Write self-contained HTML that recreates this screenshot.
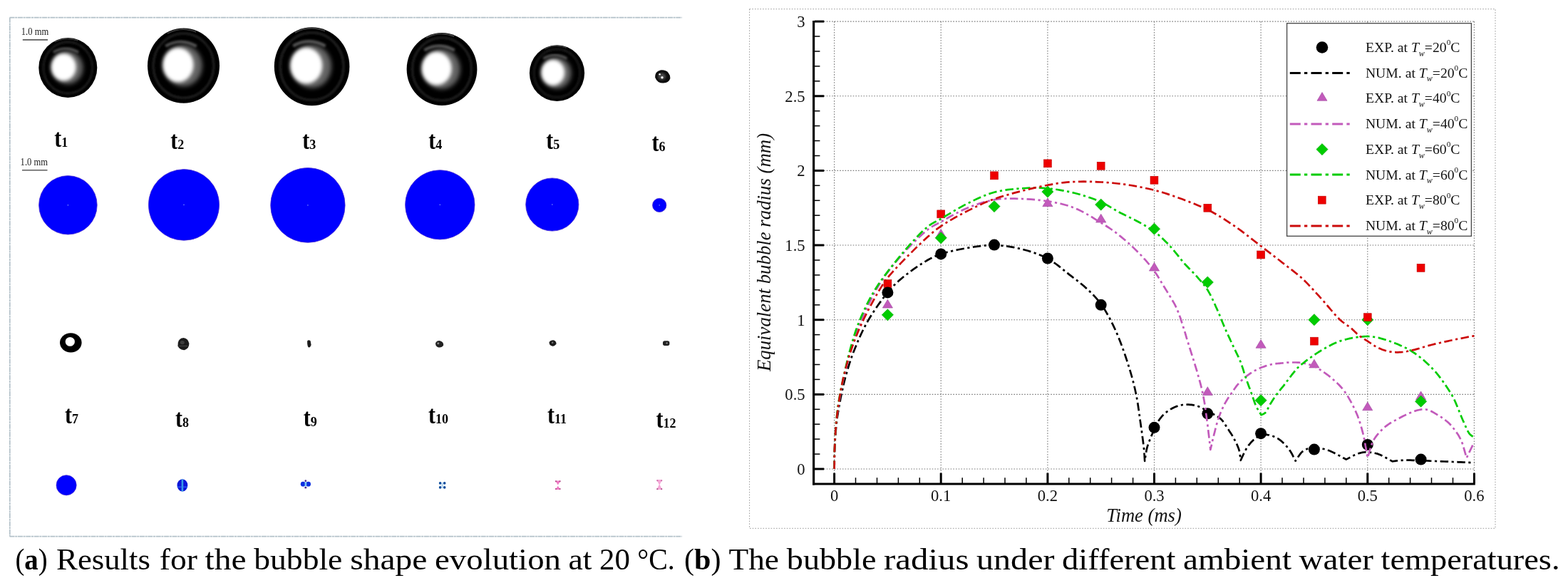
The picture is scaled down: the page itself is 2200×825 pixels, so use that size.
<!DOCTYPE html><html><head><meta charset="utf-8"><title>Bubble evolution figure</title><style>
html,body{margin:0;padding:0;background:#fff;}body{width:2200px;height:825px;overflow:hidden;position:relative;}
svg{position:absolute;left:0;top:0;display:block;}
text{font-family:"Liberation Serif", "Times New Roman", serif;}
</style></head><body>
<svg width="2200" height="825" viewBox="0 0 2200 825">
<defs>
<filter id="b1" x="-50%" y="-50%" width="200%" height="200%"><feGaussianBlur stdDeviation="1.6"/></filter>
<filter id="b2" x="-50%" y="-50%" width="200%" height="200%"><feGaussianBlur stdDeviation="0.7"/></filter>
<filter id="bh" x="-50%" y="-50%" width="200%" height="200%"><feGaussianBlur stdDeviation="3.2"/></filter>
<filter id="bc" x="-50%" y="-50%" width="200%" height="200%"><feGaussianBlur stdDeviation="2.4"/></filter>
<filter id="b3" x="-50%" y="-50%" width="200%" height="200%"><feGaussianBlur stdDeviation="0.45"/></filter>
<radialGradient id="core" cx="0.5" cy="0.5" r="0.5">
<stop offset="0" stop-color="#fff" stop-opacity="1"/>
<stop offset="0.62" stop-color="#fff" stop-opacity="1"/>
<stop offset="0.82" stop-color="#fff" stop-opacity="0.55"/>
<stop offset="1" stop-color="#fff" stop-opacity="0"/>
</radialGradient>
<radialGradient id="coreR" cx="0.35" cy="0.5" r="0.65" fx="0.35" fy="0.5">
<stop offset="0" stop-color="#fff" stop-opacity="1"/>
<stop offset="0.55" stop-color="#fff" stop-opacity="1"/>
<stop offset="0.8" stop-color="#bbb" stop-opacity="0.6"/>
<stop offset="1" stop-color="#666" stop-opacity="0"/>
</radialGradient>
</defs>
<g stroke="#b3c1c9" stroke-width="1.7" stroke-dasharray="7 0.7 3 0.7" fill="none">
<line x1="13.5" y1="24.7" x2="956.7" y2="24.7"/>
<line x1="13.8" y1="24.7" x2="13.8" y2="752.6"/>
<line x1="13.5" y1="752.6" x2="956.7" y2="752.6"/>
</g>
<text x="29.8" y="48.9" font-size="14.4" fill="#1a1a1a" textLength="38.4" lengthAdjust="spacingAndGlyphs">1.0 mm</text>
<line x1="31.8" y1="55.9" x2="67.0" y2="55.9" stroke="#5c5c5c" stroke-width="1.6"/>
<text x="28.6" y="232.2" font-size="14.4" fill="#1a1a1a" textLength="38.4" lengthAdjust="spacingAndGlyphs">1.0 mm</text>
<line x1="31.0" y1="238.8" x2="66.5" y2="238.8" stroke="#5c5c5c" stroke-width="1.6"/>
<g transform="translate(95.3 95.0)">
<ellipse rx="41.0" ry="42.0" fill="#030303" filter="url(#b2)"/>
<ellipse cx="0.0" cy="0.0" rx="34.4" ry="36.1" fill="none" stroke="#262626" stroke-width="2.1" filter="url(#b1)"/>
<path d="M-18.4 -36.1 A39.6 40.5 0 0 1 14.3 -37.8" fill="none" stroke="#777" stroke-width="1.4" opacity="0.5" filter="url(#b2)"/>
<path d="M-20.5 -21.8 Q-3.3 -31.9 14.8 -21.8" fill="none" stroke="#6e6e6e" stroke-width="3.4" opacity="0.75" filter="url(#b1)"/>
<ellipse cx="0.0" cy="0.0" rx="21.3" ry="23.1" fill="#9a9a9a" opacity="0.65" filter="url(#bh)"/>
<ellipse cx="-6.1" cy="-0.8" rx="17.6" ry="19.3" fill="#fff" filter="url(#bc)"/>
</g>
<g transform="translate(257.5 92.2)">
<ellipse rx="50.5" ry="52.6" fill="#030303" filter="url(#b2)"/>
<ellipse cx="0.0" cy="0.0" rx="42.4" ry="45.2" fill="none" stroke="#262626" stroke-width="2.5" filter="url(#b1)"/>
<path d="M-22.7 -45.2 A48.7 50.8 0 0 1 17.7 -47.3" fill="none" stroke="#777" stroke-width="1.8" opacity="0.5" filter="url(#b2)"/>
<path d="M-25.2 -27.4 Q-4.0 -40.0 18.2 -27.4" fill="none" stroke="#6e6e6e" stroke-width="4.2" opacity="0.75" filter="url(#b1)"/>
<ellipse cx="0.0" cy="0.0" rx="26.3" ry="28.9" fill="#9a9a9a" opacity="0.65" filter="url(#bh)"/>
<ellipse cx="-7.6" cy="-1.1" rx="21.7" ry="24.2" fill="#fff" filter="url(#bc)"/>
</g>
<g transform="translate(437.6 93.2)">
<ellipse rx="52.8" ry="55.0" fill="#030303" filter="url(#b2)"/>
<ellipse cx="0.0" cy="0.0" rx="44.4" ry="47.3" fill="none" stroke="#262626" stroke-width="2.6" filter="url(#b1)"/>
<path d="M-23.8 -47.3 A51.0 53.1 0 0 1 18.5 -49.5" fill="none" stroke="#777" stroke-width="1.8" opacity="0.5" filter="url(#b2)"/>
<path d="M-26.4 -28.6 Q-4.2 -41.8 19.0 -28.6" fill="none" stroke="#6e6e6e" stroke-width="4.4" opacity="0.75" filter="url(#b1)"/>
<ellipse cx="0.0" cy="0.0" rx="27.5" ry="30.3" fill="#9a9a9a" opacity="0.65" filter="url(#bh)"/>
<ellipse cx="-7.9" cy="-1.1" rx="22.7" ry="25.3" fill="#fff" filter="url(#bc)"/>
</g>
<g transform="translate(620.0 97.0)">
<ellipse rx="49.4" ry="51.0" fill="#030303" filter="url(#b2)"/>
<ellipse cx="0.0" cy="0.0" rx="41.5" ry="43.9" fill="none" stroke="#262626" stroke-width="2.5" filter="url(#b1)"/>
<path d="M-22.2 -43.9 A47.7 49.2 0 0 1 17.3 -45.9" fill="none" stroke="#777" stroke-width="1.7" opacity="0.5" filter="url(#b2)"/>
<path d="M-24.7 -26.5 Q-4.0 -38.8 17.8 -26.5" fill="none" stroke="#6e6e6e" stroke-width="4.1" opacity="0.75" filter="url(#b1)"/>
<ellipse cx="0.0" cy="0.0" rx="25.7" ry="28.1" fill="#9a9a9a" opacity="0.65" filter="url(#bh)"/>
<ellipse cx="-7.4" cy="-1.0" rx="21.2" ry="23.5" fill="#fff" filter="url(#bc)"/>
</g>
<g transform="translate(781.5 102.6)">
<ellipse rx="38.6" ry="39.4" fill="#030303" filter="url(#b2)"/>
<ellipse cx="0.0" cy="0.0" rx="32.4" ry="33.9" fill="none" stroke="#262626" stroke-width="1.9" filter="url(#b1)"/>
<path d="M-17.4 -33.9 A37.2 38.0 0 0 1 13.5 -35.5" fill="none" stroke="#777" stroke-width="1.4" opacity="0.5" filter="url(#b2)"/>
<path d="M-19.3 -20.5 Q-3.1 -29.9 13.9 -20.5" fill="none" stroke="#6e6e6e" stroke-width="3.2" opacity="0.75" filter="url(#b1)"/>
<ellipse cx="0.0" cy="0.0" rx="20.1" ry="21.7" fill="#9a9a9a" opacity="0.65" filter="url(#bh)"/>
<ellipse cx="-5.8" cy="-0.8" rx="16.6" ry="18.1" fill="#fff" filter="url(#bc)"/>
</g>
<g transform="translate(929.6 107.4)"><path d="M-10.5 1 Q-10.5 -7.5 -3 -9 Q5 -9.5 8 -5.5 Q11 -2 10.8 2.5 Q9 8.5 1 9.2 Q-7.5 9.2 -10.5 1 Z" fill="#0a0a0a" filter="url(#b2)"/><ellipse cx="-1" cy="0" rx="5.5" ry="4.8" fill="#4a4a4a" filter="url(#b1)"/><circle cx="-4" cy="-3.2" r="1.3" fill="#f4f4f4" filter="url(#b3)"/><circle cx="-0.6" cy="1.4" r="1.7" fill="#f4f4f4" filter="url(#b3)"/></g>
<text transform="translate(76.2 206.3) scale(1 1.17)" font-size="30.0" font-weight="bold" fill="#000">t</text><text x="86.2" y="206.3" font-size="18.0" font-weight="bold" fill="#000">1</text>
<text transform="translate(239.3 208.8) scale(1 1.17)" font-size="30.0" font-weight="bold" fill="#000">t</text><text x="249.3" y="208.8" font-size="18.0" font-weight="bold" fill="#000">2</text>
<text transform="translate(424.3 208.8) scale(1 1.17)" font-size="30.0" font-weight="bold" fill="#000">t</text><text x="434.3" y="208.8" font-size="18.0" font-weight="bold" fill="#000">3</text>
<text transform="translate(601.3 208.6) scale(1 1.17)" font-size="30.0" font-weight="bold" fill="#000">t</text><text x="611.3" y="208.6" font-size="18.0" font-weight="bold" fill="#000">4</text>
<text transform="translate(766.3 208.8) scale(1 1.17)" font-size="30.0" font-weight="bold" fill="#000">t</text><text x="776.3" y="208.8" font-size="18.0" font-weight="bold" fill="#000">5</text>
<text transform="translate(914.5 211.5) scale(1 1.17)" font-size="30.0" font-weight="bold" fill="#000">t</text><text x="924.5" y="211.5" font-size="18.0" font-weight="bold" fill="#000">6</text>
<text transform="translate(91.0 594.1) scale(1 1.17)" font-size="30.0" font-weight="bold" fill="#000">t</text><text x="101.0" y="594.1" font-size="18.0" font-weight="bold" fill="#000">7</text>
<text transform="translate(246.0 599.3) scale(1 1.17)" font-size="30.0" font-weight="bold" fill="#000">t</text><text x="256.0" y="599.3" font-size="18.0" font-weight="bold" fill="#000">8</text>
<text transform="translate(425.7 597.8) scale(1 1.17)" font-size="30.0" font-weight="bold" fill="#000">t</text><text x="435.7" y="597.8" font-size="18.0" font-weight="bold" fill="#000">9</text>
<text transform="translate(601.0 594.1) scale(1 1.17)" font-size="30.0" font-weight="bold" fill="#000">t</text><text x="611.0" y="594.1" font-size="18.0" font-weight="bold" fill="#000">10</text>
<text transform="translate(768.0 594.3) scale(1 1.17)" font-size="30.0" font-weight="bold" fill="#000">t</text><text x="778.0" y="594.3" font-size="18.0" font-weight="bold" fill="#000">11</text>
<text transform="translate(920.5 599.6) scale(1 1.17)" font-size="30.0" font-weight="bold" fill="#000">t</text><text x="930.5" y="599.6" font-size="18.0" font-weight="bold" fill="#000">12</text>
<ellipse cx="95.4" cy="287.8" rx="40.8" ry="41.2" fill="#0000fe" stroke="#4a2fd0" stroke-width="0.8"/>
<rect x="94.8" y="287.2" width="1.2" height="1.2" fill="#9ab0ff"/>
<ellipse cx="258.0" cy="287.4" rx="49.6" ry="49.8" fill="#0000fe" stroke="#4a2fd0" stroke-width="0.8"/>
<rect x="257.4" y="286.8" width="1.2" height="1.2" fill="#9ab0ff"/>
<ellipse cx="431.9" cy="287.9" rx="52.2" ry="52.4" fill="#0000fe" stroke="#4a2fd0" stroke-width="0.8"/>
<rect x="431.3" y="287.3" width="1.2" height="1.2" fill="#9ab0ff"/>
<ellipse cx="617.3" cy="287.3" rx="48.7" ry="48.6" fill="#0000fe" stroke="#4a2fd0" stroke-width="0.8"/>
<rect x="616.7" y="286.7" width="1.2" height="1.2" fill="#9ab0ff"/>
<ellipse cx="774.8" cy="287.0" rx="37.1" ry="37.1" fill="#0000fe" stroke="#4a2fd0" stroke-width="0.8"/>
<rect x="774.2" y="286.4" width="1.2" height="1.2" fill="#9ab0ff"/>
<ellipse cx="925.2" cy="287.9" rx="9.7" ry="9.6" fill="#0000fe" stroke="#4a2fd0" stroke-width="0.8"/>
<rect x="924.6" y="287.3" width="1.2" height="1.2" fill="#9ab0ff"/>
<g transform="translate(99.3 480.8)"><ellipse rx="15.3" ry="13.6" fill="#060606" filter="url(#b3)"/><ellipse cx="-1.0" cy="-1.4" rx="6.6" ry="6.4" fill="#fff" filter="url(#b2)"/><ellipse cx="-1.0" cy="-1.4" rx="4" ry="4" fill="#fff"/></g>
<g transform="translate(257.3 482.6)"><path d="M-7.5 -2 Q-6 -8 0 -8.5 Q6.5 -8 8 -1 Q8.5 6 2 8.5 Q-5 9 -7.8 3 Z" fill="#1e1e1e" filter="url(#b3)"/><ellipse cx="-1.5" cy="-2" rx="3" ry="2.6" fill="#555" opacity="0.6" filter="url(#b2)"/><line x1="-6" y1="2.8" x2="6" y2="2.8" stroke="#777" stroke-width="0.8" opacity="0.6"/></g>
<path d="M431.2 478.2 Q433.5 476 435.6 478.5 L436.6 484 Q435 488.5 432.4 487 Q430.8 484 431.2 478.2 Z" fill="#1a1a1a" filter="url(#b2)"/>
<g filter="url(#b2)"><path d="M611 481.5 Q613 477.5 617.5 478.2 Q622.5 479.5 622.2 484.5 Q620 488 615.5 487.5 Q611 486.5 611 481.5 Z" fill="#222"/><circle cx="614.8" cy="481.8" r="1.5" fill="#888"/></g>
<g filter="url(#b2)"><path d="M770.5 480 Q772.5 476.8 776.5 477.2 Q780.8 478.5 780.5 482.5 Q778.5 486 774.5 485.6 Q770.6 484.6 770.5 480 Z" fill="#1a1a1a"/><circle cx="775.2" cy="480.8" r="1.2" fill="#777"/></g>
<g filter="url(#b2)"><rect x="930" y="478.3" width="9.4" height="6.6" rx="2.6" fill="#222"/><circle cx="935.6" cy="481.4" r="1.2" fill="#888"/></g>
<ellipse cx="93.1" cy="680.8" rx="14.1" ry="14.1" fill="#0000fe" stroke="#4a2fd0" stroke-width="0.7"/>
<g filter="url(#b3)"><ellipse cx="255.9" cy="680.9" rx="7.4" ry="8.7" fill="#0a14d8"/><rect x="254.6" y="672.4" width="2.6" height="17" fill="#3fb4e8" opacity="0.85"/><line x1="248.6" y1="683.2" x2="263.2" y2="683.2" stroke="#3c7cff" stroke-width="1"/></g>
<g filter="url(#b3)"><ellipse cx="425.2" cy="679.2" rx="3.4" ry="3.4" fill="#0b2fe0"/><ellipse cx="432.6" cy="679.2" rx="3.4" ry="3.4" fill="#0b2fe0"/><rect x="427.6" y="676.3" width="2.6" height="6" fill="#7cc8f0"/><circle cx="428.8" cy="674.7" r="1.4" fill="#4a2a90"/><circle cx="428.8" cy="684.2" r="1.4" fill="#4a2a90"/></g>
<g filter="url(#b3)" fill="#0b4c9c"><circle cx="617.6" cy="677.9" r="1.8"/><circle cx="623.7" cy="677.9" r="1.8"/><circle cx="617.6" cy="683.9" r="1.8"/><circle cx="623.7" cy="683.9" r="1.8"/><rect x="619.3" y="677" width="2.6" height="8" fill="#9cc8e8" opacity="0.7"/></g>
<g filter="url(#b3)"><path d="M779.3 674.4 L786.4 674.4 L782.8 680.6 Z" fill="#f07ac4"/><path d="M779.3 687 L786.4 687 L782.8 681.8 Z" fill="#f07ac4"/><circle cx="780" cy="675.3" r="1.1" fill="#b04888"/><circle cx="785.6" cy="675.3" r="1.1" fill="#b04888"/><circle cx="780" cy="686" r="1.1" fill="#b04888"/><circle cx="785.6" cy="686" r="1.1" fill="#b04888"/></g>
<g filter="url(#b3)"><path d="M921.2 673 L929.2 673 L925.6 680 L929.2 687 L921.2 687 L924.8 680 Z" fill="#f6a8d8"/><circle cx="922.3" cy="674.3" r="1.1" fill="#c870a8"/><circle cx="928.2" cy="674.3" r="1.1" fill="#c870a8"/><circle cx="922.3" cy="686.2" r="1.1" fill="#b05890"/><circle cx="928.2" cy="686.2" r="1.1" fill="#b05890"/></g>
<rect x="1051.6" y="12.7" width="1046.4" height="728.6" fill="none" stroke="#9a9a9a" stroke-width="1" stroke-dasharray="1.6 2.1"/>
<g stroke="#7a7a7a" stroke-width="1.1" stroke-dasharray="1.6 2.1" fill="none">
<line x1="1170.6" y1="30.1" x2="1170.6" y2="664"/>
<line x1="1320.2" y1="30.1" x2="1320.2" y2="664"/>
<line x1="1469.9" y1="30.1" x2="1469.9" y2="664"/>
<line x1="1619.5" y1="30.1" x2="1619.5" y2="664"/>
<line x1="1769.1" y1="30.1" x2="1769.1" y2="664"/>
<line x1="1918.8" y1="30.1" x2="1918.8" y2="664"/>
<line x1="2068.4" y1="30.1" x2="2068.4" y2="664"/>
<line x1="1156" y1="658.0" x2="2068.4" y2="658.0"/>
<line x1="1156" y1="553.4" x2="2068.4" y2="553.4"/>
<line x1="1156" y1="448.7" x2="2068.4" y2="448.7"/>
<line x1="1156" y1="344.0" x2="2068.4" y2="344.0"/>
<line x1="1156" y1="239.4" x2="2068.4" y2="239.4"/>
<line x1="1156" y1="134.8" x2="2068.4" y2="134.8"/>
<line x1="1156" y1="30.1" x2="2068.4" y2="30.1"/>
</g>
<g stroke="#000" fill="none">
<line x1="1141.6" y1="29" x2="1141.6" y2="680.5" stroke-width="3.2"/>
<line x1="1140" y1="679.0" x2="2069.8" y2="679.0" stroke-width="3.2"/>
<line x1="1143" y1="658.0" x2="1156.2" y2="658.0" stroke-width="3"/>
<line x1="1143" y1="637.1" x2="1150.4" y2="637.1" stroke-width="1.5"/>
<line x1="1143" y1="616.1" x2="1150.4" y2="616.1" stroke-width="1.5"/>
<line x1="1143" y1="595.2" x2="1150.4" y2="595.2" stroke-width="1.5"/>
<line x1="1143" y1="574.3" x2="1150.4" y2="574.3" stroke-width="1.5"/>
<line x1="1143" y1="553.4" x2="1156.2" y2="553.4" stroke-width="3"/>
<line x1="1143" y1="532.4" x2="1150.4" y2="532.4" stroke-width="1.5"/>
<line x1="1143" y1="511.5" x2="1150.4" y2="511.5" stroke-width="1.5"/>
<line x1="1143" y1="490.6" x2="1150.4" y2="490.6" stroke-width="1.5"/>
<line x1="1143" y1="469.6" x2="1150.4" y2="469.6" stroke-width="1.5"/>
<line x1="1143" y1="448.7" x2="1156.2" y2="448.7" stroke-width="3"/>
<line x1="1143" y1="427.8" x2="1150.4" y2="427.8" stroke-width="1.5"/>
<line x1="1143" y1="406.8" x2="1150.4" y2="406.8" stroke-width="1.5"/>
<line x1="1143" y1="385.9" x2="1150.4" y2="385.9" stroke-width="1.5"/>
<line x1="1143" y1="365.0" x2="1150.4" y2="365.0" stroke-width="1.5"/>
<line x1="1143" y1="344.0" x2="1156.2" y2="344.0" stroke-width="3"/>
<line x1="1143" y1="323.1" x2="1150.4" y2="323.1" stroke-width="1.5"/>
<line x1="1143" y1="302.2" x2="1150.4" y2="302.2" stroke-width="1.5"/>
<line x1="1143" y1="281.3" x2="1150.4" y2="281.3" stroke-width="1.5"/>
<line x1="1143" y1="260.3" x2="1150.4" y2="260.3" stroke-width="1.5"/>
<line x1="1143" y1="239.4" x2="1156.2" y2="239.4" stroke-width="3"/>
<line x1="1143" y1="218.5" x2="1150.4" y2="218.5" stroke-width="1.5"/>
<line x1="1143" y1="197.5" x2="1150.4" y2="197.5" stroke-width="1.5"/>
<line x1="1143" y1="176.6" x2="1150.4" y2="176.6" stroke-width="1.5"/>
<line x1="1143" y1="155.7" x2="1150.4" y2="155.7" stroke-width="1.5"/>
<line x1="1143" y1="134.8" x2="1156.2" y2="134.8" stroke-width="3"/>
<line x1="1143" y1="113.8" x2="1150.4" y2="113.8" stroke-width="1.5"/>
<line x1="1143" y1="92.9" x2="1150.4" y2="92.9" stroke-width="1.5"/>
<line x1="1143" y1="72.0" x2="1150.4" y2="72.0" stroke-width="1.5"/>
<line x1="1143" y1="51.0" x2="1150.4" y2="51.0" stroke-width="1.5"/>
<line x1="1143" y1="30.1" x2="1156.2" y2="30.1" stroke-width="3"/>
<line x1="1170.6" y1="678" x2="1170.6" y2="663.6" stroke-width="3"/>
<line x1="1200.5" y1="678" x2="1200.5" y2="670.2" stroke-width="1.5"/>
<line x1="1230.5" y1="678" x2="1230.5" y2="670.2" stroke-width="1.5"/>
<line x1="1260.4" y1="678" x2="1260.4" y2="670.2" stroke-width="1.5"/>
<line x1="1290.3" y1="678" x2="1290.3" y2="670.2" stroke-width="1.5"/>
<line x1="1320.2" y1="678" x2="1320.2" y2="663.6" stroke-width="3"/>
<line x1="1350.2" y1="678" x2="1350.2" y2="670.2" stroke-width="1.5"/>
<line x1="1380.1" y1="678" x2="1380.1" y2="670.2" stroke-width="1.5"/>
<line x1="1410.0" y1="678" x2="1410.0" y2="670.2" stroke-width="1.5"/>
<line x1="1439.9" y1="678" x2="1439.9" y2="670.2" stroke-width="1.5"/>
<line x1="1469.9" y1="678" x2="1469.9" y2="663.6" stroke-width="3"/>
<line x1="1499.8" y1="678" x2="1499.8" y2="670.2" stroke-width="1.5"/>
<line x1="1529.7" y1="678" x2="1529.7" y2="670.2" stroke-width="1.5"/>
<line x1="1559.6" y1="678" x2="1559.6" y2="670.2" stroke-width="1.5"/>
<line x1="1589.6" y1="678" x2="1589.6" y2="670.2" stroke-width="1.5"/>
<line x1="1619.5" y1="678" x2="1619.5" y2="663.6" stroke-width="3"/>
<line x1="1649.4" y1="678" x2="1649.4" y2="670.2" stroke-width="1.5"/>
<line x1="1679.3" y1="678" x2="1679.3" y2="670.2" stroke-width="1.5"/>
<line x1="1709.3" y1="678" x2="1709.3" y2="670.2" stroke-width="1.5"/>
<line x1="1739.2" y1="678" x2="1739.2" y2="670.2" stroke-width="1.5"/>
<line x1="1769.1" y1="678" x2="1769.1" y2="663.6" stroke-width="3"/>
<line x1="1799.0" y1="678" x2="1799.0" y2="670.2" stroke-width="1.5"/>
<line x1="1829.0" y1="678" x2="1829.0" y2="670.2" stroke-width="1.5"/>
<line x1="1858.9" y1="678" x2="1858.9" y2="670.2" stroke-width="1.5"/>
<line x1="1888.8" y1="678" x2="1888.8" y2="670.2" stroke-width="1.5"/>
<line x1="1918.8" y1="678" x2="1918.8" y2="663.6" stroke-width="3"/>
<line x1="1948.7" y1="678" x2="1948.7" y2="670.2" stroke-width="1.5"/>
<line x1="1978.6" y1="678" x2="1978.6" y2="670.2" stroke-width="1.5"/>
<line x1="2008.5" y1="678" x2="2008.5" y2="670.2" stroke-width="1.5"/>
<line x1="2038.5" y1="678" x2="2038.5" y2="670.2" stroke-width="1.5"/>
<line x1="2068.4" y1="678" x2="2068.4" y2="663.6" stroke-width="3"/>
</g>
<g font-size="22.6" fill="#111">
<text x="1129.6" y="665.9" text-anchor="end">0</text>
<text x="1129.6" y="561.2" text-anchor="end">0.5</text>
<text x="1129.6" y="456.6" text-anchor="end">1</text>
<text x="1129.6" y="351.9" text-anchor="end">1.5</text>
<text x="1129.6" y="247.3" text-anchor="end">2</text>
<text x="1129.6" y="142.7" text-anchor="end">2.5</text>
<text x="1129.6" y="38.0" text-anchor="end">3</text>
<text x="1170.6" y="702.8" text-anchor="middle">0</text>
<text x="1320.2" y="702.8" text-anchor="middle">0.1</text>
<text x="1469.9" y="702.8" text-anchor="middle">0.2</text>
<text x="1619.5" y="702.8" text-anchor="middle">0.3</text>
<text x="1769.1" y="702.8" text-anchor="middle">0.4</text>
<text x="1918.8" y="702.8" text-anchor="middle">0.5</text>
<text x="2068.4" y="702.8" text-anchor="middle">0.6</text>
</g>
<text x="1605" y="732.2" font-size="26.6" font-style="italic" fill="#111" text-anchor="middle">Time (ms)</text>
<text transform="translate(1080.6 354) rotate(-90)" font-size="26.8" font-style="italic" fill="#111" text-anchor="middle">Equivalent bubble radius (mm)</text>
<path d="M1245.4 420.2 L1252.5 432.0 L1238.3 432.0 Z" fill="#c25abb" stroke="#a04aa0" stroke-width="0.6"/>
<path d="M1320.2 321.4 L1327.3 333.2 L1313.1 333.2 Z" fill="#c25abb" stroke="#a04aa0" stroke-width="0.6"/>
<path d="M1469.9 277.9 L1477.0 289.7 L1462.8 289.7 Z" fill="#c25abb" stroke="#a04aa0" stroke-width="0.6"/>
<path d="M1544.7 300.3 L1551.8 312.1 L1537.6 312.1 Z" fill="#c25abb" stroke="#a04aa0" stroke-width="0.6"/>
<path d="M1619.5 368.3 L1626.6 380.1 L1612.4 380.1 Z" fill="#c25abb" stroke="#a04aa0" stroke-width="0.6"/>
<path d="M1694.3 542.7 L1701.4 554.5 L1687.2 554.5 Z" fill="#c25abb" stroke="#a04aa0" stroke-width="0.6"/>
<path d="M1769.1 476.5 L1776.2 488.3 L1762.0 488.3 Z" fill="#c25abb" stroke="#a04aa0" stroke-width="0.6"/>
<path d="M1843.9 504.2 L1851.0 516.0 L1836.8 516.0 Z" fill="#c25abb" stroke="#a04aa0" stroke-width="0.6"/>
<path d="M1918.8 564.0 L1925.8 575.8 L1911.7 575.8 Z" fill="#c25abb" stroke="#a04aa0" stroke-width="0.6"/>
<path d="M1993.6 549.0 L2000.7 560.8 L1986.5 560.8 Z" fill="#c25abb" stroke="#a04aa0" stroke-width="0.6"/>
<path d="M1245.4 433.7 L1253.5 441.8 L1245.4 449.9 L1237.3 441.8 Z" fill="#00cc00" stroke="#00a800" stroke-width="0.6"/>
<path d="M1320.2 325.7 L1328.3 333.8 L1320.2 341.9 L1312.1 333.8 Z" fill="#00cc00" stroke="#00a800" stroke-width="0.6"/>
<path d="M1395.0 281.5 L1403.1 289.6 L1395.0 297.7 L1386.9 289.6 Z" fill="#00cc00" stroke="#00a800" stroke-width="0.6"/>
<path d="M1469.9 261.0 L1478.0 269.1 L1469.9 277.2 L1461.8 269.1 Z" fill="#00cc00" stroke="#00a800" stroke-width="0.6"/>
<path d="M1544.7 279.0 L1552.8 287.1 L1544.7 295.2 L1536.6 287.1 Z" fill="#00cc00" stroke="#00a800" stroke-width="0.6"/>
<path d="M1619.5 313.1 L1627.6 321.2 L1619.5 329.3 L1611.4 321.2 Z" fill="#00cc00" stroke="#00a800" stroke-width="0.6"/>
<path d="M1694.3 387.9 L1702.4 396.0 L1694.3 404.1 L1686.2 396.0 Z" fill="#00cc00" stroke="#00a800" stroke-width="0.6"/>
<path d="M1769.1 553.6 L1777.2 561.7 L1769.1 569.8 L1761.0 561.7 Z" fill="#00cc00" stroke="#00a800" stroke-width="0.6"/>
<path d="M1843.9 440.6 L1852.0 448.7 L1843.9 456.8 L1835.8 448.7 Z" fill="#00cc00" stroke="#00a800" stroke-width="0.6"/>
<path d="M1918.8 440.6 L1926.8 448.7 L1918.8 456.8 L1910.7 448.7 Z" fill="#00cc00" stroke="#00a800" stroke-width="0.6"/>
<path d="M1993.6 555.1 L2001.7 563.2 L1993.6 571.3 L1985.5 563.2 Z" fill="#00cc00" stroke="#00a800" stroke-width="0.6"/>
<rect x="1240.0" y="392.6" width="10.9" height="10.9" fill="#ee0000" stroke="#c00000" stroke-width="0.6"/>
<rect x="1314.8" y="294.9" width="10.9" height="10.9" fill="#ee0000" stroke="#c00000" stroke-width="0.6"/>
<rect x="1389.6" y="240.9" width="10.9" height="10.9" fill="#ee0000" stroke="#c00000" stroke-width="0.6"/>
<rect x="1464.4" y="223.9" width="10.9" height="10.9" fill="#ee0000" stroke="#c00000" stroke-width="0.6"/>
<rect x="1539.2" y="227.3" width="10.9" height="10.9" fill="#ee0000" stroke="#c00000" stroke-width="0.6"/>
<rect x="1614.0" y="247.3" width="10.9" height="10.9" fill="#ee0000" stroke="#c00000" stroke-width="0.6"/>
<rect x="1688.9" y="286.3" width="10.9" height="10.9" fill="#ee0000" stroke="#c00000" stroke-width="0.6"/>
<rect x="1763.7" y="352.0" width="10.9" height="10.9" fill="#ee0000" stroke="#c00000" stroke-width="0.6"/>
<rect x="1838.5" y="473.2" width="10.9" height="10.9" fill="#ee0000" stroke="#c00000" stroke-width="0.6"/>
<rect x="1913.3" y="439.7" width="10.9" height="10.9" fill="#ee0000" stroke="#c00000" stroke-width="0.6"/>
<rect x="1988.1" y="370.4" width="10.9" height="10.9" fill="#ee0000" stroke="#c00000" stroke-width="0.6"/>
<circle cx="1245.4" cy="410.4" r="8.0" fill="#000"/>
<circle cx="1320.2" cy="356.4" r="8.0" fill="#000"/>
<circle cx="1395.0" cy="343.6" r="8.0" fill="#000"/>
<circle cx="1469.9" cy="362.5" r="8.0" fill="#000"/>
<circle cx="1544.7" cy="427.8" r="8.0" fill="#000"/>
<circle cx="1619.5" cy="599.8" r="8.0" fill="#000"/>
<circle cx="1694.3" cy="580.3" r="8.0" fill="#000"/>
<circle cx="1769.1" cy="608.2" r="8.0" fill="#000"/>
<circle cx="1843.9" cy="630.6" r="8.0" fill="#000"/>
<circle cx="1918.8" cy="623.9" r="8.0" fill="#000"/>
<circle cx="1993.6" cy="644.6" r="8.0" fill="#000"/>
<path d="M1170.6 658.0L1170.6 655.1L1170.7 652.2L1170.7 649.2L1170.7 646.3L1170.7 643.4L1170.8 640.5L1170.8 637.7L1170.9 634.9L1171.0 632.5L1171.1 630.1L1171.2 627.7L1171.3 625.4L1171.4 623.1L1171.5 620.8L1171.6 618.4L1171.8 616.1L1172.0 613.6L1172.2 611.1L1172.4 608.6L1172.6 606.0L1172.8 603.5L1173.0 600.9L1173.3 598.4L1173.6 595.8L1173.9 593.2L1174.2 590.6L1174.5 588.1L1174.8 585.5L1175.2 582.9L1175.6 580.2L1176.1 577.3L1176.6 574.2L1177.4 569.4L1178.4 564.2L1179.5 558.6L1180.6 552.9L1181.9 547.0L1183.2 541.2L1184.6 535.4L1186.0 529.9L1187.5 524.7L1189.0 519.5L1190.5 514.3L1192.1 509.2L1193.9 504.1L1195.6 499.0L1197.5 493.9L1199.5 488.9L1201.6 483.8L1203.7 478.7L1206.0 473.6L1208.3 468.5L1210.7 463.5L1213.2 458.5L1215.9 453.6L1218.6 448.7L1221.6 443.7L1224.9 438.6L1228.2 433.5L1231.7 428.5L1235.2 423.6L1238.7 418.9L1242.1 414.5L1245.4 410.4L1247.8 407.5L1250.2 404.9L1252.4 402.4L1254.7 400.0L1257.0 397.7L1259.5 395.5L1262.1 393.1L1264.9 390.7L1268.7 387.5L1273.0 384.2L1277.5 380.8L1282.2 377.4L1286.9 374.2L1291.5 371.1L1295.9 368.3L1300.0 365.8L1302.7 364.3L1305.2 362.9L1307.6 361.7L1309.9 360.5L1312.2 359.4L1314.7 358.4L1317.3 357.4L1320.2 356.4L1324.7 355.0L1329.6 353.6L1334.9 352.4L1340.3 351.1L1345.8 350.0L1351.4 349.0L1356.7 348.0L1361.8 347.2L1366.1 346.5L1370.3 345.9L1374.4 345.3L1378.5 344.8L1382.6 344.4L1386.7 344.2L1390.8 344.0L1395.0 344.0L1399.6 344.2L1404.3 344.6L1409.0 345.0L1413.7 345.6L1418.4 346.4L1423.1 347.2L1427.8 348.2L1432.5 349.3L1437.2 350.5L1442.0 351.8L1446.8 353.3L1451.6 354.9L1456.3 356.6L1461.0 358.5L1465.5 360.5L1469.9 362.7L1474.0 365.0L1477.9 367.7L1481.8 370.5L1485.6 373.4L1489.3 376.4L1493.0 379.4L1496.6 382.3L1500.1 385.1L1503.1 387.4L1506.1 389.7L1509.1 391.9L1512.0 394.1L1514.8 396.4L1517.6 398.7L1520.4 401.0L1523.1 403.5L1526.0 406.1L1528.8 408.8L1531.5 411.5L1534.3 414.3L1537.0 417.1L1539.6 420.1L1542.2 423.2L1544.7 426.5L1547.4 430.5L1550.1 434.6L1552.6 438.9L1555.1 443.3L1557.6 447.9L1560.0 452.6L1562.3 457.4L1564.6 462.3L1567.2 468.1L1569.7 474.2L1572.2 480.5L1574.6 486.9L1576.9 493.4L1579.1 499.8L1581.2 506.1L1583.1 512.1L1584.7 517.2L1586.2 522.1L1587.6 527.0L1588.9 531.8L1590.2 536.6L1591.4 541.4L1592.5 546.3L1593.6 551.3L1594.7 556.6L1595.7 562.2L1596.6 567.7L1597.4 573.4L1598.2 579.0L1599.0 584.5L1599.7 589.9L1600.5 595.2L1601.1 599.8L1601.8 604.4L1602.4 609.0L1603.0 613.5L1603.6 617.8L1604.1 622.0L1604.6 626.0L1605.0 629.7L1605.2 632.2L1605.4 634.4L1605.5 636.6L1605.7 638.7L1605.8 640.7L1605.9 642.8L1606.0 644.8L1606.2 646.9L1606.6 644.5L1606.9 642.0L1607.3 639.6L1607.7 637.1L1608.1 634.7L1608.5 632.2L1609.0 629.8L1609.6 627.4L1610.3 625.1L1611.1 622.8L1611.9 620.5L1612.8 618.2L1613.7 615.9L1614.6 613.7L1615.6 611.4L1616.6 609.0L1617.8 606.4L1618.9 603.7L1620.1 601.0L1621.4 598.2L1622.7 595.6L1624.1 593.0L1625.5 590.5L1627.0 588.3L1628.3 586.6L1629.6 585.0L1630.9 583.4L1632.3 582.0L1633.8 580.6L1635.3 579.3L1636.9 578.0L1638.5 576.8L1640.3 575.6L1642.1 574.4L1644.1 573.3L1646.1 572.2L1648.1 571.3L1650.1 570.4L1652.2 569.7L1654.2 569.0L1656.1 568.6L1658.1 568.2L1660.0 568.0L1662.0 567.8L1663.9 567.7L1665.9 567.7L1667.8 567.7L1669.6 567.8L1671.3 567.9L1672.9 568.1L1674.5 568.4L1676.1 568.7L1677.7 569.1L1679.3 569.5L1680.8 570.0L1682.3 570.5L1683.9 571.2L1685.5 571.9L1687.0 572.7L1688.5 573.6L1690.0 574.5L1691.5 575.4L1692.9 576.2L1694.3 577.0L1695.4 577.5L1696.4 578.0L1697.3 578.5L1698.3 579.0L1699.3 579.4L1700.2 579.9L1701.2 580.4L1702.2 581.0L1703.5 581.7L1704.9 582.5L1706.3 583.3L1707.8 584.1L1709.2 585.0L1710.6 586.0L1711.9 587.0L1713.2 588.1L1714.4 589.4L1715.7 590.9L1716.8 592.4L1717.9 594.1L1719.0 595.8L1720.1 597.5L1721.2 599.2L1722.3 600.9L1723.5 602.6L1724.6 604.4L1725.8 606.2L1727.0 608.0L1728.2 609.9L1729.3 611.7L1730.4 613.6L1731.4 615.5L1732.4 617.5L1733.5 619.5L1734.5 621.6L1735.5 623.6L1736.4 625.7L1737.2 627.8L1738.0 629.8L1738.6 631.8L1739.1 633.6L1739.4 635.4L1739.7 637.1L1739.9 638.9L1740.1 640.6L1740.3 642.4L1740.5 644.1L1740.7 645.9L1741.8 643.6L1742.8 641.3L1743.9 639.0L1745.0 636.7L1746.1 634.5L1747.2 632.3L1748.3 630.2L1749.5 628.3L1750.6 626.7L1751.6 625.2L1752.7 623.8L1753.9 622.4L1755.0 621.0L1756.2 619.8L1757.4 618.5L1758.6 617.4L1759.9 616.4L1761.1 615.3L1762.4 614.4L1763.7 613.4L1765.1 612.6L1766.4 611.8L1767.8 611.2L1769.1 610.7L1770.3 610.4L1771.4 610.1L1772.6 609.9L1773.7 609.8L1774.9 609.8L1776.1 609.8L1777.3 609.9L1778.5 610.1L1780.1 610.3L1781.7 610.7L1783.4 611.2L1785.1 611.7L1786.8 612.3L1788.4 613.0L1790.0 613.7L1791.4 614.5L1792.6 615.1L1793.8 615.8L1794.9 616.6L1795.9 617.4L1797.0 618.2L1798.0 619.1L1799.0 620.0L1800.1 621.0L1801.4 622.2L1802.7 623.6L1804.1 625.0L1805.4 626.5L1806.7 628.1L1807.9 629.7L1809.1 631.3L1810.3 632.9L1811.3 634.5L1812.3 636.2L1813.2 637.9L1814.1 639.7L1815.0 641.4L1815.8 643.2L1816.7 645.0L1817.6 646.7L1819.0 644.8L1820.3 642.8L1821.6 640.8L1823.0 638.8L1824.3 636.9L1825.8 635.1L1827.3 633.6L1829.0 632.3L1830.6 631.3L1832.4 630.5L1834.2 629.8L1836.1 629.3L1838.0 628.9L1840.0 628.6L1842.0 628.4L1843.9 628.3L1846.1 628.3L1848.4 628.4L1850.6 628.6L1852.9 629.0L1855.2 629.5L1857.5 630.0L1859.7 630.6L1861.9 631.2L1863.9 631.9L1865.8 632.6L1867.7 633.5L1869.6 634.4L1871.5 635.3L1873.3 636.3L1875.1 637.2L1876.9 638.1L1878.4 638.9L1880.0 639.7L1881.5 640.5L1882.9 641.3L1884.4 642.2L1885.9 643.0L1887.3 643.8L1888.8 644.6L1890.7 643.6L1892.6 642.6L1894.5 641.6L1896.4 640.5L1898.3 639.6L1900.1 638.6L1902.0 637.8L1903.8 637.1L1905.3 636.5L1906.8 636.0L1908.3 635.6L1909.7 635.2L1911.2 634.9L1912.7 634.7L1914.2 634.5L1915.8 634.3L1917.7 634.3L1919.7 634.4L1921.7 634.6L1923.8 634.8L1925.9 635.1L1928.0 635.5L1929.9 636.0L1931.8 636.4L1933.3 636.9L1934.7 637.4L1936.1 638.0L1937.4 638.6L1938.7 639.2L1940.0 639.9L1941.4 640.6L1942.7 641.3L1944.1 642.0L1945.4 642.7L1946.8 643.4L1948.2 644.2L1949.5 645.0L1950.9 645.8L1952.3 646.6L1953.6 647.3L1954.9 647.2L1956.1 647.0L1957.3 646.8L1958.6 646.6L1959.8 646.5L1961.1 646.3L1962.3 646.2L1963.6 646.1L1965.0 646.0L1966.4 645.9L1967.7 645.8L1969.1 645.7L1970.5 645.7L1972.0 645.7L1973.6 645.7L1975.3 645.7L1978.5 645.7L1982.0 645.8L1985.8 645.9L1989.8 646.0L1993.9 646.2L1998.0 646.4L2002.1 646.5L2006.1 646.7L2010.1 646.8L2014.2 647.0L2018.3 647.2L2022.3 647.3L2026.4 647.5L2030.4 647.6L2034.5 647.8L2038.5 648.0L2042.2 648.1L2046.0 648.3L2049.8 648.4L2053.5 648.6L2057.2 648.7L2060.9 648.9L2064.6 649.1L2068.4 649.2" fill="none" stroke="#000" stroke-width="2.7" stroke-dasharray="11.5 4.5 3.2 4.5" stroke-linejoin="round"/>
<path d="M1170.6 658.0L1170.6 654.9L1170.7 651.8L1170.7 648.6L1170.7 645.5L1170.7 642.4L1170.8 639.3L1170.8 636.3L1170.9 633.3L1171.0 630.7L1171.1 628.1L1171.2 625.6L1171.3 623.1L1171.4 620.7L1171.5 618.2L1171.6 615.7L1171.8 613.1L1172.0 610.5L1172.2 607.8L1172.4 605.1L1172.6 602.4L1172.8 599.7L1173.0 597.0L1173.3 594.2L1173.6 591.5L1173.9 588.7L1174.2 585.9L1174.5 583.1L1174.9 580.3L1175.3 577.4L1175.7 574.5L1176.1 571.5L1176.6 568.4L1177.2 564.3L1178.0 560.0L1178.7 555.6L1179.6 551.0L1180.4 546.4L1181.4 541.8L1182.3 537.1L1183.3 532.4L1184.4 527.3L1185.6 522.1L1186.8 516.9L1188.1 511.6L1189.4 506.3L1190.8 501.1L1192.3 495.8L1193.8 490.6L1195.4 485.3L1197.0 480.2L1198.6 475.1L1200.4 470.0L1202.2 464.9L1204.2 459.6L1206.4 454.3L1208.8 448.7L1212.1 441.3L1215.6 433.6L1219.4 425.7L1223.4 417.7L1227.7 409.5L1232.3 401.5L1237.2 393.6L1242.4 385.9L1248.8 377.5L1255.9 368.7L1263.5 359.8L1271.4 351.1L1279.3 342.9L1286.9 335.4L1293.9 328.8L1300.0 323.5L1302.8 321.3L1305.4 319.5L1307.8 317.9L1310.2 316.6L1312.5 315.3L1314.9 314.1L1317.4 312.7L1320.2 311.2L1324.3 308.9L1328.7 306.4L1333.3 303.8L1338.1 301.2L1343.0 298.6L1347.9 296.1L1352.8 293.8L1357.6 291.7L1362.3 289.9L1367.0 288.1L1371.8 286.4L1376.5 284.9L1381.3 283.4L1386.0 282.2L1390.6 281.1L1395.0 280.2L1398.7 279.6L1402.3 279.2L1405.7 278.9L1409.1 278.8L1412.5 278.7L1416.1 278.7L1419.7 278.7L1423.6 278.7L1428.9 278.9L1434.5 279.0L1440.4 279.3L1446.4 279.7L1452.4 280.2L1458.4 280.8L1464.3 281.5L1469.9 282.3L1474.8 283.1L1479.6 284.0L1484.3 285.0L1489.0 286.0L1493.6 287.2L1498.2 288.5L1502.7 290.0L1507.3 291.7L1512.1 293.8L1517.0 296.1L1521.8 298.7L1526.6 301.4L1531.4 304.2L1536.0 307.1L1540.4 309.8L1544.7 312.4L1548.0 314.5L1551.2 316.5L1554.3 318.5L1557.3 320.5L1560.2 322.5L1563.2 324.6L1566.2 326.8L1569.2 329.2L1572.8 332.1L1576.5 335.2L1580.3 338.4L1584.0 341.7L1587.8 345.1L1591.4 348.6L1594.9 352.0L1598.2 355.4L1601.2 358.4L1604.1 361.6L1606.9 364.7L1609.7 367.9L1612.3 371.0L1614.8 374.2L1617.2 377.2L1619.5 380.3L1621.2 382.7L1622.8 385.1L1624.4 387.5L1625.8 389.9L1627.2 392.2L1628.6 394.5L1629.9 396.8L1631.3 399.1L1632.6 401.2L1633.9 403.2L1635.1 405.2L1636.3 407.1L1637.5 409.1L1638.7 411.1L1640.0 413.1L1641.2 415.2L1642.5 417.4L1643.8 419.6L1645.1 421.7L1646.4 423.9L1647.7 426.2L1649.0 428.7L1650.3 431.3L1651.7 434.3L1653.8 439.7L1656.1 445.9L1658.3 452.8L1660.6 460.0L1662.9 467.3L1665.0 474.6L1667.2 481.6L1669.2 488.0L1670.8 493.1L1672.4 498.1L1673.9 502.9L1675.4 507.7L1676.8 512.4L1678.2 516.9L1679.6 521.5L1680.8 525.9L1681.9 529.7L1682.9 533.4L1683.9 536.9L1684.8 540.4L1685.7 544.0L1686.6 547.5L1687.4 551.2L1688.2 555.0L1689.0 559.5L1689.8 564.1L1690.6 568.8L1691.3 573.6L1691.9 578.5L1692.6 583.3L1693.2 588.1L1693.9 592.9L1694.5 597.6L1695.1 602.4L1695.6 607.1L1696.2 611.8L1696.7 616.6L1697.3 621.3L1697.8 626.1L1698.3 630.8L1699.1 627.7L1699.8 624.6L1700.5 621.5L1701.2 618.4L1701.9 615.4L1702.7 612.3L1703.4 609.3L1704.2 606.3L1704.9 603.5L1705.6 600.7L1706.4 597.9L1707.1 595.2L1707.9 592.5L1708.7 589.8L1709.6 587.1L1710.5 584.5L1711.4 582.1L1712.3 579.8L1713.3 577.4L1714.3 575.1L1715.3 572.9L1716.3 570.6L1717.4 568.5L1718.5 566.3L1719.6 564.4L1720.7 562.5L1721.8 560.7L1722.9 558.9L1724.1 557.2L1725.3 555.4L1726.5 553.7L1727.7 551.9L1729.0 550.0L1730.3 548.1L1731.6 546.2L1733.0 544.3L1734.3 542.4L1735.7 540.6L1737.2 538.9L1738.6 537.2L1739.9 535.8L1741.2 534.5L1742.6 533.2L1744.0 532.0L1745.3 530.8L1746.7 529.6L1748.1 528.5L1749.5 527.4L1750.8 526.4L1752.2 525.4L1753.5 524.4L1754.9 523.5L1756.2 522.6L1757.6 521.7L1759.0 520.9L1760.4 520.1L1762.0 519.3L1763.5 518.5L1765.1 517.7L1766.7 517.0L1768.3 516.3L1769.9 515.6L1771.5 515.0L1773.2 514.4L1774.7 513.9L1776.4 513.3L1778.0 512.8L1779.6 512.4L1781.2 511.9L1782.8 511.5L1784.4 511.2L1785.9 510.9L1787.1 510.6L1788.2 510.5L1789.3 510.3L1790.4 510.2L1791.5 510.1L1792.6 510.0L1793.8 509.9L1795.0 509.8L1796.7 509.6L1798.4 509.5L1800.1 509.3L1802.0 509.1L1803.8 508.9L1805.7 508.7L1807.6 508.6L1809.5 508.6L1811.6 508.5L1813.8 508.5L1815.9 508.5L1818.1 508.5L1820.3 508.6L1822.5 508.7L1824.7 508.9L1826.9 509.2L1829.1 509.6L1831.3 510.0L1833.5 510.6L1835.8 511.2L1837.9 511.8L1840.1 512.5L1842.1 513.2L1843.9 514.0L1845.3 514.6L1846.6 515.3L1847.8 516.0L1849.0 516.7L1850.2 517.4L1851.3 518.2L1852.6 519.0L1853.8 519.9L1855.4 520.9L1856.9 521.9L1858.5 523.0L1860.1 524.1L1861.8 525.3L1863.4 526.5L1865.1 527.9L1866.8 529.3L1869.1 531.2L1871.4 533.2L1873.8 535.4L1876.2 537.6L1878.7 540.0L1881.0 542.5L1883.3 545.2L1885.5 547.9L1888.0 551.4L1890.5 555.1L1892.8 559.1L1895.1 563.2L1897.3 567.3L1899.4 571.5L1901.4 575.7L1903.2 579.7L1904.7 583.3L1906.0 586.9L1907.3 590.4L1908.4 594.0L1909.5 597.6L1910.5 601.2L1911.5 604.9L1912.5 608.6L1913.4 612.7L1914.3 616.8L1915.1 621.0L1915.8 625.3L1916.6 629.5L1917.3 633.8L1918.0 638.1L1918.8 642.3L1919.8 639.1L1920.8 635.8L1921.7 632.5L1922.7 629.1L1923.7 625.9L1924.9 622.7L1926.2 619.7L1927.7 616.8L1929.4 614.1L1931.2 611.6L1933.2 609.1L1935.3 606.7L1937.4 604.4L1939.7 602.2L1942.0 600.1L1944.3 598.1L1946.7 596.3L1949.3 594.5L1951.9 592.9L1954.6 591.3L1957.3 589.9L1960.0 588.4L1962.5 587.1L1965.0 585.8L1966.9 584.8L1968.8 583.8L1970.7 582.9L1972.5 582.0L1974.3 581.1L1976.0 580.3L1977.7 579.6L1979.4 578.9L1980.6 578.4L1981.7 577.9L1982.9 577.5L1984.0 577.1L1985.1 576.7L1986.1 576.4L1987.2 576.0L1988.3 575.7L1989.4 575.5L1990.4 575.2L1991.4 575.0L1992.5 574.8L1993.5 574.6L1994.5 574.4L1995.5 574.3L1996.6 574.3L1997.6 574.3L1998.6 574.3L1999.6 574.4L2000.6 574.5L2001.6 574.7L2002.7 574.9L2003.7 575.2L2004.8 575.5L2006.2 576.1L2007.6 576.7L2009.1 577.5L2010.6 578.3L2012.1 579.2L2013.6 580.1L2015.0 580.9L2016.5 581.8L2017.8 582.6L2019.2 583.5L2020.6 584.3L2022.0 585.2L2023.3 586.1L2024.6 587.0L2025.9 587.9L2027.2 588.9L2028.5 590.0L2029.8 591.0L2031.0 592.0L2032.3 593.1L2033.5 594.3L2034.7 595.5L2035.9 596.8L2037.1 598.1L2038.7 600.1L2040.3 602.2L2042.0 604.4L2043.6 606.7L2045.2 609.1L2046.8 611.6L2048.2 614.2L2049.5 616.8L2050.8 619.7L2052.0 622.8L2053.0 626.0L2054.0 629.3L2054.9 632.6L2055.8 635.9L2056.8 639.3L2057.8 642.5L2059.0 639.8L2060.3 637.1L2061.6 634.4L2062.9 631.7L2064.2 629.0L2065.5 626.3L2066.8 623.6L2068.1 621.0" fill="none" stroke="#c25abb" stroke-width="2.7" stroke-dasharray="11.5 4.5 3.2 4.5" stroke-linejoin="round"/>
<path d="M1170.6 658.0L1170.6 654.8L1170.7 651.5L1170.7 648.2L1170.7 644.9L1170.7 641.7L1170.8 638.5L1170.8 635.3L1170.9 632.2L1171.0 629.5L1171.1 626.8L1171.2 624.2L1171.3 621.6L1171.4 619.0L1171.5 616.4L1171.6 613.8L1171.8 611.2L1172.0 608.4L1172.2 605.6L1172.4 602.8L1172.6 600.0L1172.8 597.1L1173.0 594.3L1173.3 591.4L1173.6 588.6L1173.9 585.6L1174.2 582.7L1174.5 579.8L1174.9 576.8L1175.2 573.9L1175.6 570.8L1176.1 567.7L1176.6 564.5L1177.2 560.5L1178.0 556.3L1178.8 552.1L1179.6 547.7L1180.5 543.3L1181.4 538.9L1182.3 534.4L1183.3 529.9L1184.4 524.9L1185.5 519.9L1186.7 514.7L1187.9 509.5L1189.1 504.3L1190.4 499.2L1191.8 494.0L1193.2 488.9L1194.6 483.8L1196.1 478.8L1197.5 473.9L1199.1 468.9L1200.7 464.0L1202.5 458.9L1204.4 453.9L1206.5 448.7L1209.1 442.6L1211.9 436.5L1214.8 430.3L1217.8 424.1L1221.2 417.7L1224.8 411.3L1228.8 404.7L1233.1 398.0L1240.0 388.3L1248.1 377.6L1257.1 366.3L1266.4 355.0L1275.8 344.2L1284.8 334.3L1293.0 325.8L1300.0 319.4L1302.9 317.0L1305.5 315.2L1307.9 313.7L1310.2 312.3L1312.5 311.1L1314.9 309.9L1317.5 308.6L1320.2 307.0L1324.3 304.5L1328.7 301.9L1333.4 299.1L1338.1 296.2L1343.0 293.4L1347.9 290.6L1352.8 287.9L1357.6 285.4L1362.2 283.2L1366.8 280.9L1371.3 278.8L1375.8 276.7L1380.5 274.7L1385.2 272.9L1390.0 271.2L1395.0 269.7L1400.9 268.4L1407.1 267.2L1413.6 266.2L1420.1 265.5L1426.6 264.8L1432.9 264.4L1438.8 264.0L1444.3 263.7L1447.8 263.5L1451.1 263.4L1454.3 263.4L1457.3 263.5L1460.3 263.6L1463.3 263.8L1466.5 264.0L1469.9 264.3L1474.2 264.8L1478.7 265.4L1483.4 266.0L1488.2 266.8L1493.0 267.7L1497.8 268.6L1502.6 269.7L1507.3 270.8L1512.0 272.0L1516.9 273.4L1521.7 274.9L1526.6 276.4L1531.3 278.1L1536.0 279.8L1540.4 281.5L1544.7 283.4L1548.0 284.9L1551.2 286.6L1554.2 288.3L1557.2 290.1L1560.1 291.9L1563.1 293.7L1566.1 295.4L1569.2 297.2L1572.7 299.0L1576.4 300.8L1580.1 302.7L1583.9 304.5L1587.6 306.3L1591.3 308.1L1594.8 310.0L1598.2 311.8L1601.1 313.4L1603.9 314.9L1606.6 316.5L1609.2 318.0L1611.8 319.6L1614.4 321.2L1616.9 322.9L1619.5 324.8L1622.2 326.9L1624.9 329.1L1627.5 331.4L1630.1 333.7L1632.7 336.2L1635.2 338.7L1637.8 341.2L1640.3 343.8L1643.0 346.8L1645.7 349.9L1648.3 353.2L1651.0 356.4L1653.6 359.7L1656.2 363.0L1658.8 366.2L1661.4 369.2L1663.7 371.8L1666.1 374.3L1668.5 376.7L1670.8 379.1L1673.1 381.5L1675.4 383.8L1677.6 386.2L1679.8 388.6L1681.7 390.9L1683.7 393.1L1685.5 395.2L1687.4 397.4L1689.2 399.6L1690.9 401.9L1692.6 404.3L1694.3 406.8L1696.1 409.9L1697.9 413.1L1699.6 416.4L1701.2 419.8L1702.8 423.2L1704.4 426.7L1705.9 430.2L1707.5 433.6L1709.0 437.1L1710.5 440.6L1712.0 444.2L1713.4 447.8L1714.8 451.3L1716.3 454.7L1717.6 458.1L1719.0 461.3L1720.1 463.8L1721.2 466.2L1722.3 468.6L1723.4 470.9L1724.4 473.2L1725.5 475.4L1726.4 477.5L1727.4 479.5L1728.0 480.9L1728.7 482.2L1729.3 483.5L1729.8 484.7L1730.4 485.9L1731.0 487.2L1731.6 488.5L1732.3 489.9L1733.3 492.0L1734.3 494.1L1735.4 496.3L1736.5 498.6L1737.6 500.9L1738.7 503.3L1739.7 505.7L1740.7 508.1L1741.7 510.8L1742.6 513.4L1743.5 516.2L1744.4 518.9L1745.2 521.7L1746.1 524.5L1747.0 527.2L1747.9 529.9L1748.8 532.5L1749.7 535.0L1750.6 537.5L1751.5 540.0L1752.4 542.5L1753.4 545.0L1754.3 547.5L1755.2 550.0L1756.1 552.6L1757.0 555.2L1757.9 557.8L1758.8 560.4L1759.7 563.0L1760.6 565.5L1761.5 567.9L1762.5 570.1L1763.4 571.8L1764.2 573.4L1765.1 574.9L1766.0 576.4L1766.9 577.8L1767.8 579.3L1768.7 580.7L1769.6 582.2L1770.3 581.9L1771.0 581.5L1771.7 581.2L1772.5 580.9L1773.2 580.6L1773.9 580.2L1774.6 579.7L1775.3 579.1L1776.2 578.0L1777.2 576.6L1778.1 575.0L1779.0 573.2L1779.9 571.4L1780.8 569.7L1781.7 567.9L1782.6 566.3L1783.5 564.9L1784.4 563.5L1785.3 562.1L1786.2 560.7L1787.1 559.3L1788.0 558.0L1788.9 556.7L1789.8 555.4L1790.5 554.4L1791.2 553.5L1791.9 552.5L1792.6 551.6L1793.3 550.7L1794.0 549.8L1794.6 549.0L1795.3 548.1L1795.9 547.4L1796.4 546.7L1797.0 546.0L1797.5 545.4L1798.1 544.7L1798.7 544.0L1799.3 543.2L1800.1 542.3L1802.0 539.9L1804.2 536.9L1806.8 533.5L1809.5 529.9L1812.3 526.2L1815.0 522.8L1817.4 519.8L1819.5 517.4L1820.5 516.3L1821.4 515.4L1822.3 514.6L1823.0 513.8L1823.9 513.1L1824.7 512.4L1825.7 511.6L1826.9 510.7L1829.4 508.7L1832.3 506.4L1835.5 504.0L1839.0 501.5L1842.7 498.9L1846.4 496.4L1850.0 494.0L1853.5 491.8L1856.8 489.9L1860.1 488.0L1863.4 486.2L1866.7 484.5L1870.0 482.8L1873.4 481.3L1876.8 479.9L1880.1 478.6L1883.5 477.5L1886.8 476.6L1890.2 475.7L1893.7 474.9L1897.1 474.2L1900.4 473.7L1903.7 473.2L1906.8 472.8L1909.2 472.5L1911.6 472.3L1913.9 472.1L1916.2 472.0L1918.5 471.9L1920.7 472.0L1923.1 472.1L1925.5 472.4L1928.3 472.8L1931.2 473.3L1934.2 473.9L1937.1 474.7L1940.1 475.6L1943.2 476.5L1946.3 477.5L1949.4 478.6L1953.3 480.0L1957.2 481.5L1961.3 483.1L1965.4 484.9L1969.5 486.7L1973.6 488.8L1977.6 490.9L1981.4 493.3L1985.5 496.0L1989.6 499.0L1993.7 502.2L1997.7 505.5L2001.5 509.0L2005.3 512.6L2008.9 516.2L2012.4 519.9L2015.7 523.6L2018.9 527.6L2022.1 531.8L2025.1 536.0L2028.0 540.1L2030.6 544.0L2032.9 547.6L2034.9 550.6L2035.7 552.0L2036.5 553.2L2037.1 554.2L2037.7 555.3L2038.2 556.3L2038.8 557.4L2039.4 558.6L2040.1 560.0L2041.6 563.2L2043.2 566.9L2044.9 571.1L2046.7 575.5L2048.5 580.0L2050.3 584.4L2052.0 588.5L2053.6 592.1L2054.6 594.5L2055.7 596.9L2056.7 599.2L2057.7 601.4L2058.7 603.4L2059.7 605.4L2060.7 607.1L2061.8 608.6L2062.5 609.5L2063.3 610.2L2064.1 610.8L2064.9 611.4L2065.7 612.0L2066.5 612.5L2067.3 613.0L2068.1 613.6" fill="none" stroke="#00cc00" stroke-width="2.7" stroke-dasharray="11.5 4.5 3.2 4.5" stroke-linejoin="round"/>
<path d="M1170.6 658.0L1170.6 654.8L1170.7 651.6L1170.7 648.4L1170.7 645.2L1170.7 642.0L1170.8 638.9L1170.8 635.8L1170.9 632.7L1171.0 630.1L1171.1 627.5L1171.2 624.9L1171.3 622.4L1171.4 619.8L1171.5 617.3L1171.6 614.8L1171.8 612.2L1172.0 609.4L1172.2 606.7L1172.4 604.0L1172.6 601.2L1172.8 598.4L1173.0 595.6L1173.3 592.8L1173.6 590.0L1173.9 587.1L1174.2 584.3L1174.5 581.5L1174.9 578.6L1175.3 575.7L1175.7 572.7L1176.1 569.6L1176.6 566.4L1177.2 562.3L1177.9 557.9L1178.7 553.4L1179.5 548.8L1180.4 544.1L1181.3 539.3L1182.3 534.6L1183.3 529.9L1184.5 524.9L1185.8 519.8L1187.2 514.6L1188.6 509.4L1190.1 504.3L1191.6 499.1L1193.3 494.0L1195.0 488.9L1196.8 483.8L1198.6 478.8L1200.5 473.9L1202.5 468.9L1204.5 464.0L1206.7 459.0L1209.0 453.9L1211.4 448.7L1214.5 442.4L1217.9 435.7L1221.5 428.9L1225.2 422.0L1229.0 415.3L1232.6 408.9L1236.2 403.1L1239.4 398.0L1241.3 395.3L1243.0 392.9L1244.6 390.7L1246.2 388.7L1247.9 386.7L1249.7 384.6L1251.7 382.4L1253.9 379.8L1258.5 374.9L1264.0 369.1L1270.0 362.9L1276.4 356.5L1282.8 350.1L1289.1 344.0L1294.9 338.5L1300.0 333.8L1302.8 331.3L1305.4 329.0L1307.8 326.9L1310.1 324.9L1312.4 323.0L1314.8 321.2L1317.4 319.3L1320.2 317.3L1324.3 314.6L1328.7 311.8L1333.3 309.1L1338.1 306.3L1343.0 303.6L1347.9 301.0L1352.8 298.4L1357.6 295.9L1362.2 293.6L1366.6 291.4L1371.0 289.2L1375.4 287.2L1379.9 285.1L1384.7 283.1L1389.7 281.1L1395.0 279.2L1403.3 276.4L1412.5 273.7L1422.3 270.9L1432.4 268.2L1442.5 265.7L1452.4 263.4L1461.6 261.4L1469.9 259.7L1475.0 258.8L1479.8 257.9L1484.3 257.2L1488.7 256.6L1492.9 256.1L1497.2 255.7L1501.6 255.4L1506.1 255.1L1510.8 254.9L1515.6 254.8L1520.5 254.7L1525.3 254.8L1530.2 254.9L1535.0 255.0L1539.9 255.3L1544.7 255.5L1549.4 255.8L1554.1 256.1L1558.8 256.5L1563.4 257.0L1568.1 257.5L1572.8 258.0L1577.4 258.6L1582.1 259.3L1586.8 260.0L1591.7 260.9L1596.6 261.8L1601.5 262.8L1606.3 263.8L1610.9 264.8L1615.4 265.8L1619.5 266.8L1622.3 267.5L1624.9 268.2L1627.3 268.8L1629.6 269.5L1632.0 270.2L1634.5 271.0L1637.2 271.9L1640.1 272.9L1645.8 274.8L1652.2 277.1L1659.1 279.6L1666.4 282.4L1673.8 285.2L1681.0 288.2L1687.9 291.2L1694.3 294.2L1699.4 296.8L1704.3 299.5L1709.0 302.2L1713.6 305.0L1718.2 307.8L1722.7 310.8L1727.2 313.8L1731.7 316.8L1736.5 320.2L1741.2 323.7L1746.0 327.2L1750.7 330.9L1755.4 334.6L1760.1 338.2L1764.6 341.8L1769.1 345.3L1773.2 348.4L1777.1 351.4L1781.1 354.4L1784.9 357.4L1788.8 360.4L1792.6 363.3L1796.4 366.2L1800.1 369.2L1803.6 371.8L1807.0 374.5L1810.4 377.0L1813.7 379.6L1817.0 382.2L1820.3 384.9L1823.6 387.6L1826.9 390.5L1830.3 393.7L1833.7 397.1L1837.0 400.6L1840.3 404.1L1843.6 407.7L1846.9 411.3L1850.2 414.9L1853.5 418.6L1856.9 422.4L1860.3 426.4L1863.8 430.5L1867.2 434.5L1870.6 438.5L1873.9 442.3L1877.1 445.7L1880.1 448.7L1882.2 450.5L1884.1 452.0L1886.1 453.5L1887.9 454.8L1889.8 456.1L1891.6 457.3L1893.4 458.6L1895.1 460.0L1896.7 461.3L1898.1 462.7L1899.6 464.1L1901.0 465.5L1902.4 466.8L1903.8 468.2L1905.3 469.5L1906.8 470.7L1908.2 471.8L1909.7 472.8L1911.1 473.8L1912.6 474.8L1914.1 475.7L1915.6 476.7L1917.2 477.6L1918.8 478.6L1920.5 479.8L1922.3 481.0L1924.1 482.2L1925.9 483.4L1927.7 484.6L1929.6 485.8L1931.5 486.9L1933.4 487.8L1935.3 488.7L1937.3 489.6L1939.3 490.4L1941.3 491.1L1943.3 491.7L1945.4 492.3L1947.4 492.8L1949.4 493.3L1951.4 493.6L1953.4 493.9L1955.4 494.1L1957.4 494.2L1959.4 494.3L1961.4 494.3L1963.4 494.2L1965.4 494.1L1967.4 494.0L1969.3 493.8L1971.2 493.5L1973.1 493.2L1975.1 492.8L1977.1 492.4L1979.2 491.9L1981.4 491.4L1984.9 490.6L1988.5 489.6L1992.3 488.5L1996.2 487.3L2000.3 486.1L2004.6 484.9L2008.9 483.7L2013.3 482.6L2019.5 481.2L2026.5 479.6L2034.0 478.0L2041.5 476.4L2048.7 475.0L2055.1 473.7L2060.4 472.6L2064.2 471.9L2064.9 471.8L2065.6 471.7L2066.1 471.6L2066.6 471.6L2067.0 471.5L2067.4 471.4L2067.9 471.4L2068.4 471.3" fill="none" stroke="#cc0a0a" stroke-width="2.7" stroke-dasharray="11.5 4.5 3.2 4.5" stroke-linejoin="round"/>
<rect x="1805.6" y="32.7" width="258.8" height="298.6" fill="#fff" stroke="#444" stroke-width="1.3"/>
<circle cx="1855.0" cy="66.5" r="8.3" fill="#000"/>
<line x1="1809.8" y1="102.4" x2="1894.6" y2="102.4" stroke="#000" stroke-width="3" stroke-dasharray="15 5.2 4.3 5.2"/>
<path d="M1855.0 129.5 L1862.0 141.3 L1848.0 141.3 Z" fill="#c25abb" stroke="#a04aa0" stroke-width="0.6"/>
<line x1="1809.8" y1="174.0" x2="1894.6" y2="174.0" stroke="#c25abb" stroke-width="3" stroke-dasharray="15 5.2 4.3 5.2"/>
<path d="M1855.0 201.5 L1863.1 209.6 L1855.0 217.7 L1846.9 209.6 Z" fill="#00cc00" stroke="#00a800" stroke-width="0.6"/>
<line x1="1809.8" y1="245.0" x2="1894.6" y2="245.0" stroke="#00cc00" stroke-width="3" stroke-dasharray="15 5.2 4.3 5.2"/>
<rect x="1849.3" y="275.2" width="10.9" height="10.9" fill="#ee0000" stroke="#c00000" stroke-width="0.6"/>
<line x1="1809.8" y1="317.0" x2="1894.6" y2="317.0" stroke="#cc0a0a" stroke-width="3" stroke-dasharray="15 5.2 4.3 5.2"/>
<text x="1915.9" y="72.9" font-size="19.7" fill="#111">EXP. at <tspan font-style="italic">T</tspan><tspan font-size="12" font-style="italic" dy="5.8">w</tspan><tspan dy="-5.8">=20</tspan><tspan font-size="11.2" dy="-9.6">0</tspan><tspan dy="9.6">C</tspan></text>
<text x="1915.9" y="108.6" font-size="19.7" fill="#111">NUM. at <tspan font-style="italic">T</tspan><tspan font-size="12" font-style="italic" dy="5.8">w</tspan><tspan dy="-5.8">=20</tspan><tspan font-size="11.2" dy="-9.6">0</tspan><tspan dy="9.6">C</tspan></text>
<text x="1915.9" y="144.3" font-size="19.7" fill="#111">EXP. at <tspan font-style="italic">T</tspan><tspan font-size="12" font-style="italic" dy="5.8">w</tspan><tspan dy="-5.8">=40</tspan><tspan font-size="11.2" dy="-9.6">0</tspan><tspan dy="9.6">C</tspan></text>
<text x="1915.9" y="180.0" font-size="19.7" fill="#111">NUM. at <tspan font-style="italic">T</tspan><tspan font-size="12" font-style="italic" dy="5.8">w</tspan><tspan dy="-5.8">=40</tspan><tspan font-size="11.2" dy="-9.6">0</tspan><tspan dy="9.6">C</tspan></text>
<text x="1915.9" y="215.7" font-size="19.7" fill="#111">EXP. at <tspan font-style="italic">T</tspan><tspan font-size="12" font-style="italic" dy="5.8">w</tspan><tspan dy="-5.8">=60</tspan><tspan font-size="11.2" dy="-9.6">0</tspan><tspan dy="9.6">C</tspan></text>
<text x="1915.9" y="251.5" font-size="19.7" fill="#111">NUM. at <tspan font-style="italic">T</tspan><tspan font-size="12" font-style="italic" dy="5.8">w</tspan><tspan dy="-5.8">=60</tspan><tspan font-size="11.2" dy="-9.6">0</tspan><tspan dy="9.6">C</tspan></text>
<text x="1915.9" y="287.2" font-size="19.7" fill="#111">EXP. at <tspan font-style="italic">T</tspan><tspan font-size="12" font-style="italic" dy="5.8">w</tspan><tspan dy="-5.8">=80</tspan><tspan font-size="11.2" dy="-9.6">0</tspan><tspan dy="9.6">C</tspan></text>
<text x="1915.9" y="322.9" font-size="19.7" fill="#111">NUM. at <tspan font-style="italic">T</tspan><tspan font-size="12" font-style="italic" dy="5.8">w</tspan><tspan dy="-5.8">=80</tspan><tspan font-size="11.2" dy="-9.6">0</tspan><tspan dy="9.6">C</tspan></text>
<g font-size="43" fill="#000" style="font-family:"Liberation Serif", "DejaVu Serif", serif">
<text x="21.4" y="799.1" textLength="45.3" lengthAdjust="spacingAndGlyphs">(<tspan font-weight="bold">a</tspan>)</text>
<text x="79.1" y="799.1" textLength="131.8" lengthAdjust="spacingAndGlyphs">Results</text>
<text x="223.8" y="799.1" textLength="53.2" lengthAdjust="spacingAndGlyphs">for</text>
<text x="287.5" y="799.1" textLength="58.0" lengthAdjust="spacingAndGlyphs">the</text>
<text x="356.2" y="799.1" textLength="124.2" lengthAdjust="spacingAndGlyphs">bubble</text>
<text x="491.2" y="799.1" textLength="108.2" lengthAdjust="spacingAndGlyphs">shape</text>
<text x="610.0" y="799.1" textLength="177.0" lengthAdjust="spacingAndGlyphs">evolution</text>
<text x="797.5" y="799.1" textLength="33.0" lengthAdjust="spacingAndGlyphs">at</text>
<text x="841.1" y="799.1" textLength="42.9" lengthAdjust="spacingAndGlyphs">20</text>
<text x="894.3" y="799.1" textLength="52.5" lengthAdjust="spacingAndGlyphs">°C.</text>
<text x="960.0" y="799.1" textLength="51.5" lengthAdjust="spacingAndGlyphs">(<tspan font-weight="bold">b</tspan>)</text>
<text x="1022.5" y="799.1" textLength="70.5" lengthAdjust="spacingAndGlyphs">The</text>
<text x="1103.8" y="799.1" textLength="125.8" lengthAdjust="spacingAndGlyphs">bubble</text>
<text x="1240.0" y="799.1" textLength="119.5" lengthAdjust="spacingAndGlyphs">radius</text>
<text x="1370.0" y="799.1" textLength="109.5" lengthAdjust="spacingAndGlyphs">under</text>
<text x="1490.0" y="799.1" textLength="159.5" lengthAdjust="spacingAndGlyphs">different</text>
<text x="1660.0" y="799.1" textLength="152.0" lengthAdjust="spacingAndGlyphs">ambient</text>
<text x="1822.5" y="799.1" textLength="104.5" lengthAdjust="spacingAndGlyphs">water</text>
<text x="1937.5" y="799.1" textLength="251.0" lengthAdjust="spacingAndGlyphs">temperatures.</text>
</g>
</svg></body></html>
